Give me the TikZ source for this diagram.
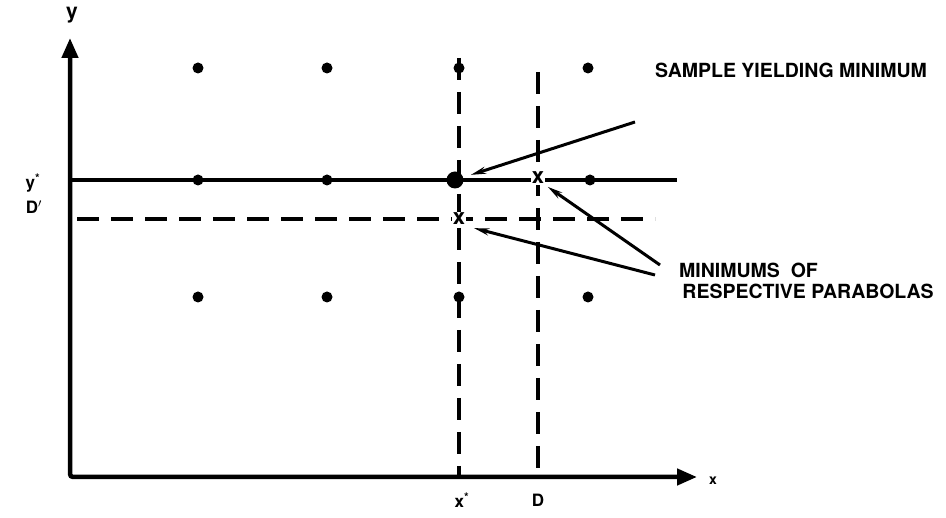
\documentclass[tikz,border=0pt]{standalone}
\usepackage{fontspec}
\setmainfont{TeX Gyre Heros}
\usetikzlibrary{arrows.meta}

\tikzset{
  axis/.style={line width=4.5pt,rounded corners=3pt,
    {Triangle[length=20pt,width=16pt]}-{Triangle[length=20pt,width=16pt]}},
  sample/.style={circle,fill,inner sep=0pt,minimum size=11pt},
  bestsample/.style={circle,fill,inner sep=0pt,minimum size=17pt},
  minmark/.style={fill=white,inner sep=1pt,font=\bfseries\fontsize{22}{22}\selectfont},
  gridline/.style={line width=3.5pt},
  dashline/.style={line width=3.5pt,dash pattern=on 22pt off 12pt},
  pointer/.style={line width=3pt,-{Stealth[length=15pt,width=7pt]}},
  note/.style={font=\bfseries\fontsize{19.5}{21}\selectfont,inner sep=0pt},
  axlabel/.style={font=\bfseries\fontsize{17}{19}\selectfont,inner sep=0pt}
}

\begin{document}
\begin{tikzpicture}[x=1pt,y=-1pt,>=Stealth]
    \useasboundingbox (0,0) rectangle (946,518);

    % Axes
    \coordinate (ytip) at (70,38);
    \coordinate (xtip) at (697,477);
    \draw[axis] (ytip) |- (xtip);
    \node[axlabel,font=\bfseries\fontsize{21}{23}\selectfont] (ylab) at (72,15) {y};
    \node[axlabel,font=\bfseries\fontsize{14}{16}\selectfont] (xlab) at (713,481) {x};

    % Lines through the minima
    \coordinate (hsolidL) at (70,180);
    \coordinate (hsolidR) at (677,180);
    \coordinate (hdashL) at (77,219);
    \coordinate (hdashR) at (655,219);
    \coordinate (vxtop) at (459,58);
    \coordinate (vxbot) at (459,477);
    \coordinate (vdtop) at (538,72);
    \coordinate (vdbot) at (538,477);
    \draw[gridline] (hsolidL) -- (hsolidR);
    \draw[dashline] (hdashL) -- (hdashR);
    \draw[dashline] (vxtop) -- (vxbot);
    \draw[dashline] (vdtop) -- (vdbot);

    % Sample points
    \foreach \col/\x in {1/198,2/327,3/459,4/588}{
        \node[sample] (s\col-1) at (\x,68) {};
        \node[sample] (s\col-3) at (\x,297) {};
    }
    \node[sample] (s1-2) at (198,180) {};
    \node[sample] (s2-2) at (327,180) {};
    \node[sample] (s4-2) at (590,180) {};
    \node[bestsample] (best) at (455,180) {};

    % Minimums
    \node[minmark] (minD) at (538,178) {x};
    \node[minmark] (minx) at (459,219) {x};

    % Axis labels
    \node[axlabel] (xstar) at (462,500) {x\textsuperscript{*}};
    \node[axlabel] (dlab) at (538,500) {D};
    \node[axlabel] (ystar) at (33,183) {y\textsuperscript{*}};
    \node[axlabel] (dprime) at (34,207) {D$'$};

    % Notes
    \node[note,anchor=west] (samplenote) at (655,70) {SAMPLE YIELDING MINIMUM};
    \node[note,anchor=north west,align=left] (minnote) at (679,263)
        {MINIMUMS\ \ OF\\\,RESPECTIVE PARABOLAS};
    \coordinate (p1) at (635,122);
    \coordinate (p2) at (660,265);
    \coordinate (p3) at (655,275);
    \draw[pointer,shorten >=8pt] (p1) -- (best);
    \draw[pointer,shorten >=3pt] (p2) -- (minD.south east);
    \draw[pointer,shorten >=8pt] (p3) -- (minx.south east);
\end{tikzpicture}
\end{document}
